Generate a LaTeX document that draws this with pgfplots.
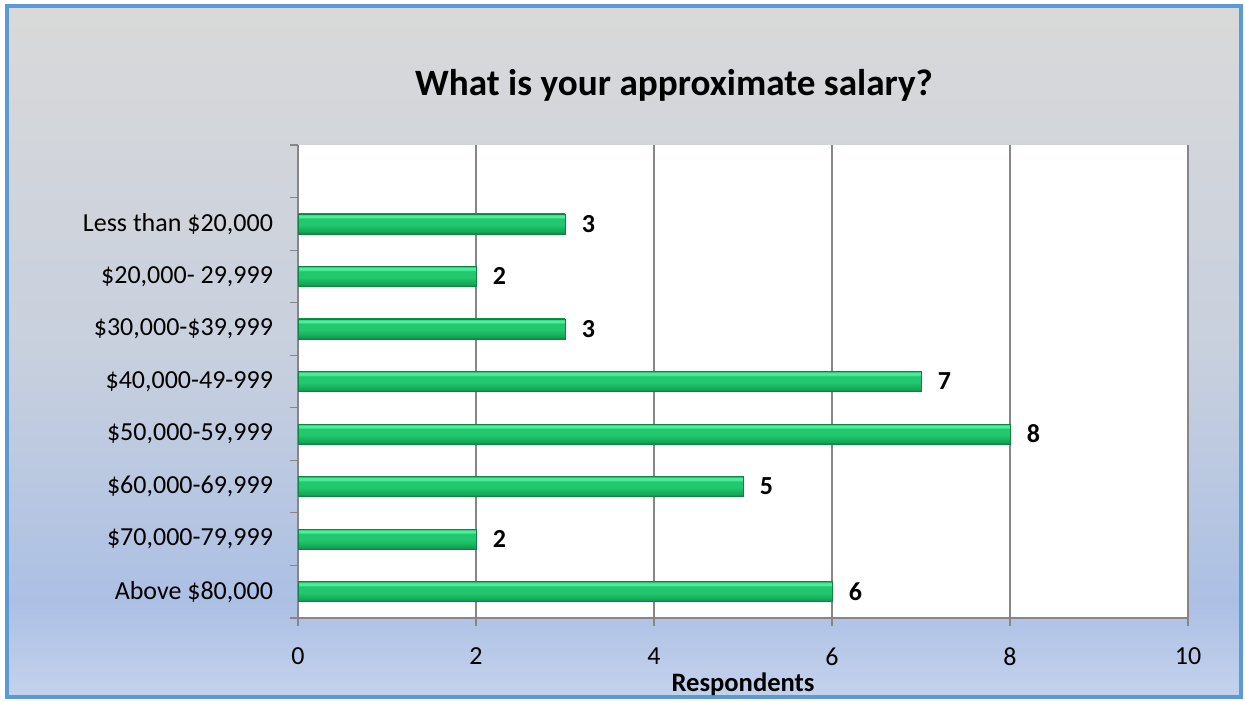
\documentclass[border=0pt]{standalone}
\usepackage{pgfplots}
\pgfplotsset{compat=1.18}
\usepackage{fontspec}
\setmainfont{Carlito}
\definecolor{bgtop}{RGB}{217,217,217}
\definecolor{bgmid}{RGB}{200,208,222}
\definecolor{bgblue}{RGB}{172,192,228}
\definecolor{bgbot}{RGB}{196,210,236}
\definecolor{frame}{RGB}{91,155,213}
\definecolor{gridgray}{RGB}{134,134,134}
\definecolor{gedge}{RGB}{16,130,66}
\definecolor{g1}{RGB}{12,138,68}
\definecolor{g2}{RGB}{18,168,86}
\definecolor{g3}{RGB}{34,200,110}
\definecolor{g4}{RGB}{76,238,156}
\definecolor{g5}{RGB}{40,178,98}
\pgfdeclareverticalshading{bgshade}{100bp}{color(0bp)=(bgbot); color(25bp)=(bgbot); color(31.9bp)=(bgblue); color(50bp)=(bgmid); color(75bp)=(bgtop); color(100bp)=(bgtop)}
\pgfdeclareverticalshading{barshade}{100bp}{color(0bp)=(g1); color(25bp)=(g1); color(31bp)=(g2); color(48bp)=(g3); color(63bp)=(g3); color(67bp)=(g4); color(71bp)=(g4); color(75bp)=(g5); color(100bp)=(g5)}
\pgfplotsset{mybar/.style={xbar, draw=gedge, line width=0.3pt, shade, shading=barshade}}
\begin{document}
\begin{tikzpicture}
\fill[white] (0,0) rectangle (622.5pt,350.5pt);
\useasboundingbox (0,0) rectangle (622.5pt,350.5pt);
\path[shading=bgshade, draw=frame, line width=2pt] (3.5pt,2pt) rectangle (620.5pt,347.5pt);
\node[font=\fontsize{18.6}{22}\selectfont\bfseries] at (337pt,308pt) {What is your approximate salary?};
\begin{axis}[
  at={(149pt,41.5pt)}, anchor=south west,
  scale only axis, width=445pt, height=236.5pt,
  xbar, bar width=10pt, bar shift=0pt,
  xmin=0, xmax=10, ymin=-0.5, ymax=8.5,
  xtick={0,2,4,6,8,10},
  ytick={0,1,2,3,4,5,6,7},
  yticklabels={{Above \$80,000},{\$70,000-79,999},{\$60,000-69,999},{\$50,000-59,999},{\$40,000-49-999},{\$30,000-\$39,999},{\$20,000- 29,999},{Less than \$20,000}},
  minor ytick={-0.5,0.5,1.5,2.5,3.5,4.5,5.5,6.5,7.5,8.5},
  axis x line*=bottom, axis y line*=left,
  axis line style={gridgray, line width=0.6pt},
  xmajorgrids, grid style={gridgray, line width=0.6pt},
  tick align=outside,
  major tick length=4pt, minor tick length=4pt,
  major y tick style={draw=none},
  minor y tick style={gridgray, line width=0.6pt},
  major x tick style={gridgray, line width=0.6pt},
  axis background/.style={fill=white},
  /pgf/number format/assume math mode=true,
  tick label style={font=\fontsize{13}{15}\selectfont, black},
  yticklabel style={xshift=-5pt},
  xticklabel style={yshift=-7.5pt},
  xlabel={Respondents},
  xlabel style={font=\fontsize{13.3}{15}\selectfont\bfseries, yshift=3.5pt},
  nodes near coords,
  nodes near coords style={font=\fontsize{13}{15}\selectfont\bfseries, black, anchor=west, xshift=5pt},
]
\addplot[mybar] coordinates {(6,0)};
\addplot[mybar] coordinates {(2,1)};
\addplot[mybar] coordinates {(5,2)};
\addplot[mybar] coordinates {(8,3)};
\addplot[mybar] coordinates {(7,4)};
\addplot[mybar] coordinates {(3,5)};
\addplot[mybar] coordinates {(2,6)};
\addplot[mybar] coordinates {(3,7)};
\end{axis}
\end{tikzpicture}
\end{document}
